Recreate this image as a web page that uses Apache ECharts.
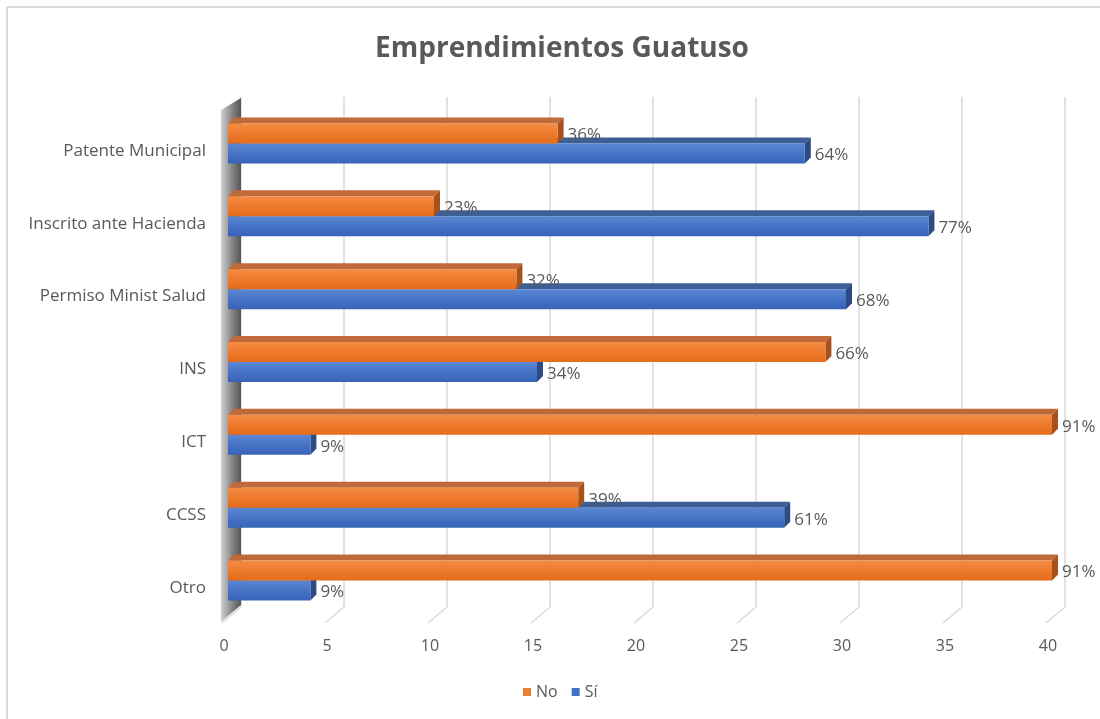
<!DOCTYPE html>
<html><head><meta charset="utf-8">
<script src="https://cdn.jsdelivr.net/npm/echarts@6/dist/echarts.min.js"></script>
<style>html,body{margin:0;padding:0;background:#fff}#c{width:1100px;height:719px}</style>
</head><body><div id="c"></div>
<script>
const categories = ['Otro','CCSS','ICT','INS','Permiso Minist Salud','Inscrito ante Hacienda','Patente Municipal'];
const noValues = [40,17,40,29,14,10,16];
const siValues = [4,27,4,15,30,34,28];
const noLabels = ['91%','39%','91%','66%','32%','23%','36%'];
const siLabels = ['9%','61%','9%','34%','68%','77%','64%'];
const xTicks = [0,5,10,15,20,25,30,35,40];

const FONT = '"Open Sans", "Liberation Sans", sans-serif';
const TXT = '#595959';

function makeBar(labels, colors, above) {
  return function (params, api) {
    const v = api.value(0), ci = api.value(1);
    const p0 = api.coord([0, ci]);
    const p1 = api.coord([v, ci]);
    const bw = 20, d = 6;
    const yTop = above ? p0[1] - bw : p0[1];
    const x0 = p0[0], x1 = p1[0];
    return {
      type: 'group',
      children: [
        { type: 'polygon', shape: { points: [[x0, yTop], [x0 + d, yTop - d], [x1 + d, yTop - d], [x1, yTop]] },
          style: { fill: colors.top } },
        { type: 'polygon', shape: { points: [[x1, yTop], [x1 + d, yTop - d], [x1 + d, yTop + bw - d], [x1, yTop + bw]] },
          style: { fill: colors.side } },
        { type: 'rect', shape: { x: x0, y: yTop, width: x1 - x0, height: bw },
          style: { fill: new echarts.graphic.LinearGradient(0, 0, 0, 1, [
            { offset: 0, color: colors.light }, { offset: 0.5, color: colors.mid }, { offset: 1, color: colors.dark }]) } },
        { type: 'text', z2: 10, style: { text: labels[params.dataIndex], x: x1 + d + 4, y: yTop + bw / 2 + 2,
          verticalAlign: 'middle', align: 'left', fill: TXT, font: '17px ' + FONT } }
      ]
    };
  };
}

const orange = { top: '#c06a3a', side: '#a9511d', light: '#f48c45', mid: '#ee7a2c', dark: '#e46c1c' };
const blue = { top: '#3d5f98', side: '#2c4a85', light: '#5b87d3', mid: '#4673c6', dark: '#3764b8' };

const chart = echarts.init(document.getElementById('c'));
chart.setOption({
  animation: false,
  backgroundColor: '#fff',
  title: {
    text: 'Emprendimientos Guatuso', left: 557, top: 30, textAlign: 'center',
    textStyle: { fontFamily: FONT, fontSize: 28, fontWeight: 'bold', color: TXT }
  },
  legend: {
    data: ['No', 'Sí'], bottom: 19, left: 523, padding: 0, icon: 'rect', itemWidth: 8, itemHeight: 8, itemGap: 14,
    textStyle: { fontFamily: FONT, fontSize: 16, color: TXT }
  },
  grid: { left: 228, right: 48, top: 107, bottom: 102 },
  xAxis: {
    type: 'value', min: 0, max: 40, interval: 5,
    axisLine: { show: false }, axisTick: { show: false }, splitLine: { show: false },
    axisLabel: { margin: 21, padding: [0, 8, 0, 0], fontFamily: FONT, fontSize: 16, color: TXT }
  },
  yAxis: {
    type: 'category', data: categories,
    axisLine: { show: false }, axisTick: { show: false }, splitLine: { show: false },
    axisLabel: { margin: 22, verticalAlign: 'top', lineHeight: 15, fontFamily: FONT, fontSize: 17, color: TXT }
  },
  graphic: [
    { type: 'line', shape: { x1: 7, y1: 7, x2: 1100, y2: 7 }, style: { stroke: '#d9d9d9', lineWidth: 2 } },
    { type: 'line', shape: { x1: 7, y1: 7, x2: 7, y2: 719 }, style: { stroke: '#d9d9d9', lineWidth: 2 } }
  ],
  series: [
    {
      type: 'custom', name: 'grid', silent: true, z: 1,
      data: xTicks.map(v => [v]),
      encode: { x: 0 },
      renderItem: function (params, api) {
        const cs = params.coordSys;
        const x = api.coord([api.value(0), 0])[0];
        const top = cs.y, bot = cs.y + cs.height;
        return { type: 'polyline', shape: { points: [[x + 13, top - 10], [x + 13, bot - 10], [x - 6, bot + 6]] },
          style: { stroke: '#d9d9d9', lineWidth: 1.5, fill: null } };
      }
    },
    {
      type: 'custom', name: 'wall', silent: true, z: 2,
      data: [[0]],
      encode: { x: 0 },
      renderItem: function (params, api) {
        const cs = params.coordSys;
        const x = api.coord([api.value(0), 0])[0];
        const top = cs.y, bot = cs.y + cs.height;
        return { type: 'polygon',
          shape: { points: [[x - 7, top + 3], [x + 13, top - 9], [x + 13, bot - 12], [x - 7, bot + 5]] },
          style: { fill: new echarts.graphic.LinearGradient(0, 0, 1, 0, [
            { offset: 0, color: '#d0d0d0' }, { offset: 0.6, color: '#808080' }, { offset: 1, color: '#555555' }]) } };
      }
    },
    {
      type: 'custom', name: 'Sí', z: 3, itemStyle: { color: '#4472C4' },
      data: siValues.map((v, i) => [v, i]),
      encode: { x: 0, y: 1 },
      renderItem: makeBar(siLabels, blue, false)
    },
    {
      type: 'custom', name: 'No', z: 4, itemStyle: { color: '#ED7D31' },
      data: noValues.map((v, i) => [v, i]),
      encode: { x: 0, y: 1 },
      renderItem: makeBar(noLabels, orange, true)
    }
  ]
});
</script>
</body></html>
